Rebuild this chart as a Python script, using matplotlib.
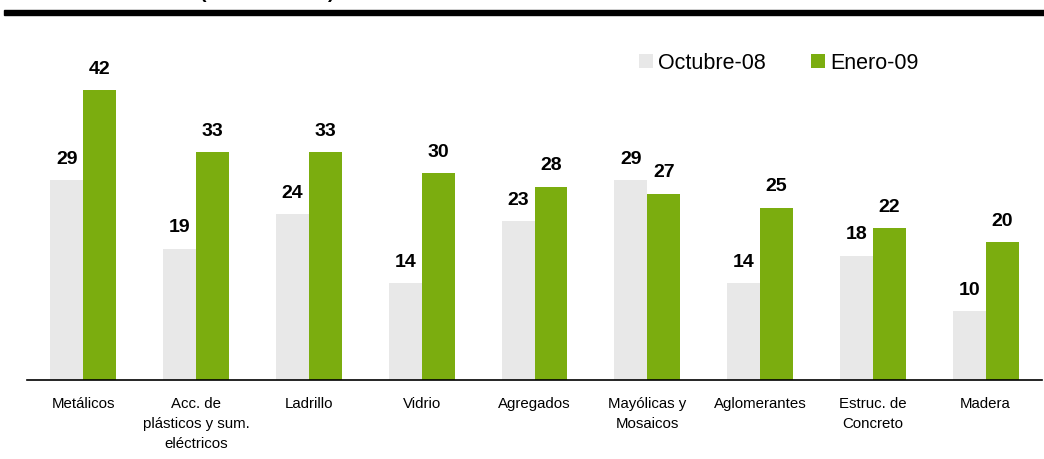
import matplotlib
matplotlib.use('Agg')
from matplotlib import pyplot as plt
from matplotlib.patches import Rectangle
import numpy as np

categories = ['Metálicos', 'Acc. de\nplásticos y sum.\neléctricos', 'Ladrillo', 'Vidrio',
              'Agregados', 'Mayólicas y\nMosaicos', 'Aglomerantes', 'Estruc. de\nConcreto', 'Madera']
octubre_08 = [29, 19, 24, 14, 23, 29, 14, 18, 10]
enero_09 = [42, 33, 33, 30, 28, 27, 25, 22, 20]
series_names = ['Octubre-08', 'Enero-09']

plt.rcParams['font.family'] = ['Liberation Sans', 'DejaVu Sans']

W, H = 1044, 459
fig = plt.figure(figsize=(W/100, H/100), dpi=100)
ax = fig.add_axes([27/W, (H-380)/H, (1042-27)/W, 340/H])

x = np.arange(len(categories))
w = 0.292
b1 = ax.bar(x - w/2, octubre_08, w, color='#e8e8e8', label=series_names[0])
b2 = ax.bar(x + w/2, enero_09, w, color='#7bad0f', label=series_names[1])

for bars in (b1, b2):
    for r in bars:
        ax.annotate(f'{r.get_height():g}', (r.get_x() + r.get_width()/2, r.get_height()),
                    xytext=(0, 9), textcoords='offset points', ha='center', va='bottom',
                    fontsize=14, fontweight='bold')

ax.set_xlim(-0.5, len(categories) - 0.5)
ax.set_ylim(0, 49.3)
ax.set_xticks(x)
ax.set_xticklabels(categories, fontsize=10.8, linespacing=1.58)
ax.tick_params(axis='x', length=0, pad=12)
ax.set_yticks([])
for s in ('left', 'right', 'top'):
    ax.spines[s].set_visible(False)
ax.spines['bottom'].set_linewidth(1.2)

fig.legend(loc='upper left', bbox_to_anchor=(630/W, 1 - 44/H), ncol=2, frameon=False,
           fontsize=15.5, handlelength=0.65, handleheight=0.65, handletextpad=0.25,
           columnspacing=2.1, borderaxespad=0)

# header rule and clipped title
fig.patches.append(Rectangle((4/W, 1 - 15/H), 1, 5/H, transform=fig.transFigure,
                             color='black', zorder=5))
fig.text(203/W, 1 - 2/H, '(', fontsize=14, fontweight='bold', ha='center', va='bottom')
fig.text(331/W, 1 - 2/H, ')', fontsize=14, fontweight='bold', ha='center', va='bottom')

fig.savefig('out.png', dpi=100)
